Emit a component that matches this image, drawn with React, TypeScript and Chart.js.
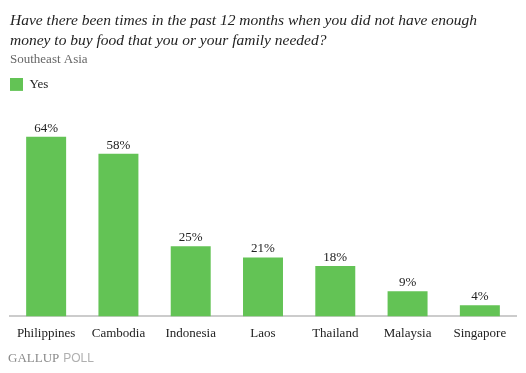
import React, { useEffect, useRef } from "react";
import { Chart, registerables } from "chart.js";

Chart.register(...registerables);

const categories = ["Philippines", "Cambodia", "Indonesia", "Laos", "Thailand", "Malaysia", "Singapore"];
const yesValues = [64, 58, 25, 21, 18, 9, 4];
const seriesName = "Yes";
const titleLines = [
  "Have there been times in the past 12 months when you did not have enough",
  "money to buy food that you or your family needed?",
];
const subtitleText = "Southeast Asia";

const GREEN = "#63c355";
const SERIF = "'Liberation Serif', 'DejaVu Serif', serif";

const valueLabels = {
  id: "valueLabels",
  afterDatasetsDraw(chart: any) {
    const ctx = chart.ctx;
    const meta = chart.getDatasetMeta(0);
    ctx.save();
    ctx.font = `13px ${SERIF}`;
    ctx.fillStyle = "#222";
    ctx.textAlign = "center";
    ctx.textBaseline = "alphabetic";
    meta.data.forEach((bar: any, i: number) => {
      ctx.fillText(`${yesValues[i]}%`, bar.x, bar.y - 5);
    });
    ctx.restore();
  },
};

const footer = {
  id: "footer",
  afterDraw(chart: any) {
    const ctx = chart.ctx;
    ctx.save();
    ctx.textBaseline = "alphabetic";
    ctx.textAlign = "left";
    ctx.font = `13px ${SERIF}`;
    ctx.fillStyle = "#8a8a8a";
    ctx.fillText("GALLUP", 8, 362);
    const w = ctx.measureText("GALLUP").width;
    ctx.font = `12px 'Liberation Sans', sans-serif`;
    ctx.fillStyle = "#b0b0b0";
    ctx.fillText("POLL", 8 + w + 4, 362);
    ctx.restore();
  },
};

export default function App() {
  const ref = useRef<HTMLCanvasElement | null>(null);
  useEffect(() => {
    document.body.style.margin = "0";
    const chart = new Chart(ref.current!, {
      type: "bar",
      data: {
        labels: categories,
        datasets: [
          {
            label: seriesName,
            data: yesValues,
            backgroundColor: GREEN,
            borderWidth: 0,
            categoryPercentage: 1,
            barPercentage: 0.553,
          },
        ],
      },
      options: {
        animation: false,
        responsive: false,
        layout: { padding: { left: 10, right: 10, top: 11, bottom: 31 } },
        plugins: {
          title: {
            display: true,
            text: titleLines,
            align: "start",
            color: "#222",
            font: { family: SERIF, size: 15.5, style: "italic", weight: "normal", lineHeight: 1.3 },
            padding: { top: 0, bottom: 0 },
          },
          subtitle: {
            display: true,
            text: subtitleText,
            align: "start",
            color: "#666",
            font: { family: SERIF, size: 13, weight: "normal" },
            padding: { top: 0, bottom: 11 },
          },
          legend: {
            display: true,
            align: "start",
            labels: {
              boxWidth: 13,
              boxHeight: 13,
              color: "#222",
              font: { family: SERIF, size: 13 },
              padding: 0,
            },
          },
          tooltip: { enabled: false },
        },
        scales: {
          x: {
            grid: { display: false },
            border: { display: true, color: "#cccccc", width: 2 },
            ticks: { color: "#222", font: { family: SERIF, size: 13 }, padding: 1 },
          },
          y: {
            display: false,
            min: 0,
            max: 76.8,
          },
        },
      },
      plugins: [valueLabels, footer],
    });
    return () => chart.destroy();
  }, []);
  return <canvas ref={ref} width={526} height={373} style={{ display: "block" }} />;
}
